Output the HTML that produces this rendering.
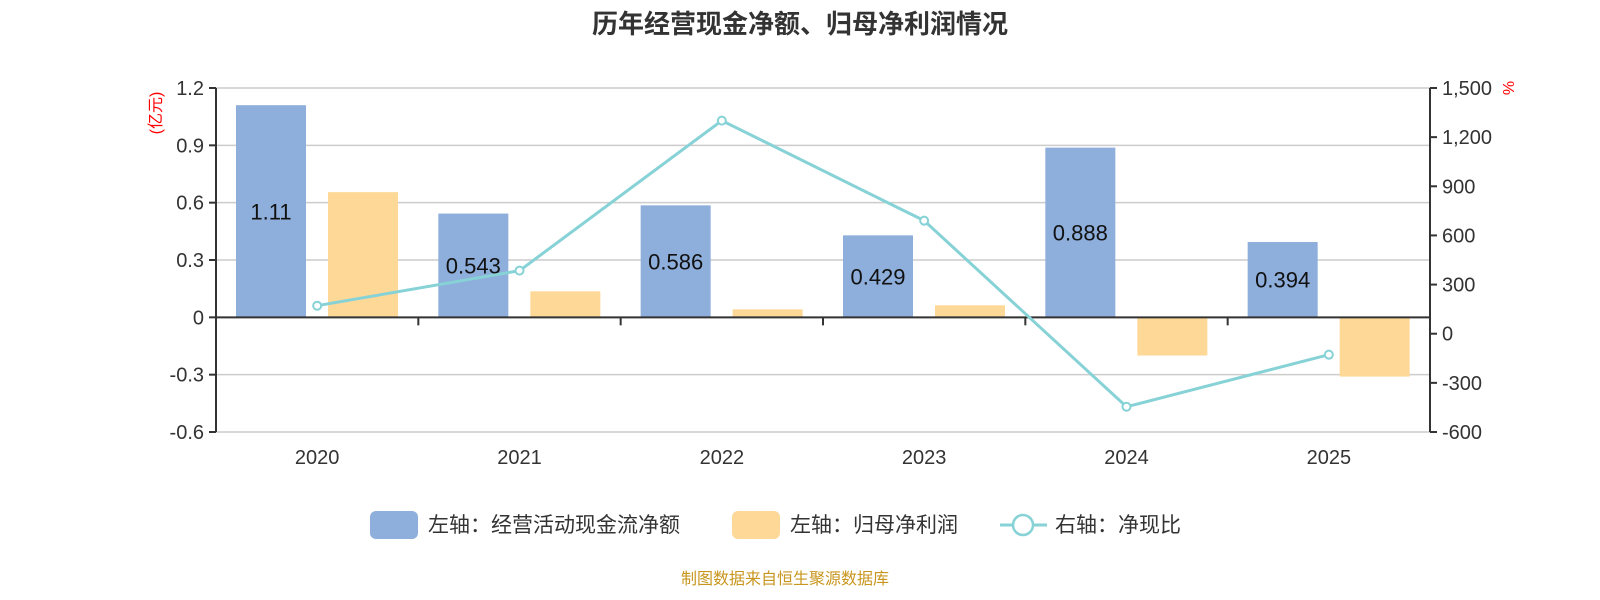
<!DOCTYPE html>
<html><head><meta charset="utf-8"><style>
body{margin:0;background:#fff;}
svg{display:block;font-family:"Liberation Sans","Noto Sans CJK SC",sans-serif;}
</style></head><body>
<svg id="c" width="1600" height="600" viewBox="0 0 1600 600"></svg>
<script>
const categories=["2020","2021","2022","2023","2024","2025"];
const cashFlow=[1.11,0.543,0.586,0.429,0.888,0.394];
const cashLabels=["1.11","0.543","0.586","0.429","0.888","0.394"];
const netProfit=[0.655,0.136,0.042,0.063,-0.2,-0.31];
const ratio=[171,385,1301,690,-446,-128];
const leftTicks=[1.2,0.9,0.6,0.3,0,-0.3,-0.6];
const leftTickLabels=["1.2","0.9","0.6","0.3","0","-0.3","-0.6"];
const rightTicks=[1500,1200,900,600,300,0,-300,-600];
const rightTickLabels=["1,500","1,200","900","600","300","0","-300","-600"];

const NS="http://www.w3.org/2000/svg";
const svg=document.getElementById('c');
function mk(t,a,txt){const e=document.createElementNS(NS,t);for(const k in a)e.setAttribute(k,a[k]);if(txt!==undefined)e.textContent=txt;svg.appendChild(e);return e;}
const X0=216,X1=1430,Y0=88,Y1=432;
const yL=v=>Y0+(1.2-v)/1.8*(Y1-Y0);
const yR=v=>Y0+(1500-v)/2100*(Y1-Y0);
const band=(X1-X0)/categories.length;
const xC=i=>X0+band*(i+0.5);

let e;
e=mk('text',{x:800,y:33,'text-anchor':'middle','font-size':26,'font-weight':'bold',fill:'#333'},'历年经营现金净额、归母净利润情况');


leftTicks.forEach((v,i)=>{
  e=mk('line',{x1:X0,x2:X1,y1:yL(v),y2:yL(v),stroke:'#ccc','stroke-width':1.5});
  
  e=mk('line',{x1:X0-7,x2:X0,y1:yL(v),y2:yL(v),stroke:'#333','stroke-width':2});
  
  e=mk('text',{x:X0-12,y:yL(v)+7,'text-anchor':'end','font-size':20,fill:'#333'},leftTickLabels[i]);
  
});
rightTicks.forEach((v,i)=>{
  e=mk('line',{x1:X1,x2:X1+7,y1:yR(v),y2:yR(v),stroke:'#333','stroke-width':2});
  
  e=mk('text',{x:X1+12,y:yR(v)+7,'text-anchor':'start','font-size':20,fill:'#333'},rightTickLabels[i]);
  
});
e=mk('line',{x1:X0,x2:X0,y1:Y0,y2:Y1,stroke:'#333','stroke-width':2});

e=mk('line',{x1:X1,x2:X1,y1:Y0,y2:Y1,stroke:'#333','stroke-width':2});

e=mk('text',{x:0,y:0,'font-size':16,fill:'red','text-anchor':'middle',transform:`translate(161,${(Y0+130)/2+4}) rotate(-90)`},'(亿元)');

e=mk('text',{x:0,y:0,'font-size':16,fill:'red','text-anchor':'middle',transform:`translate(1503,88) rotate(90)`},'%');


const bw=70;
categories.forEach((c,i)=>{
  const bs=X0+band*i;
  const y0=yL(0);
  let y=yL(cashFlow[i]);
  e=mk('rect',{x:bs+20,y:Math.min(y,y0),width:bw,height:Math.abs(y0-y),fill:'#8eaedb'});
  
  e=mk('text',{x:bs+55,y:(y+y0)/2+8,'text-anchor':'middle','font-size':22,fill:'#111'},cashLabels[i]);
  
  y=yL(netProfit[i]);
  e=mk('rect',{x:bs+112,y:Math.min(y,y0),width:bw,height:Math.abs(y0-y),fill:'#fed897'});
  
  e=mk('text',{x:xC(i),y:464,'text-anchor':'middle','font-size':20,fill:'#333'},c);
  
  if(i>0){e=mk('line',{x1:bs,x2:bs,y1:y0,y2:y0+8,stroke:'#333','stroke-width':2});
  }
});
e=mk('line',{x1:X0,x2:X1,y1:yL(0),y2:yL(0),stroke:'#333','stroke-width':2});


e=mk('polyline',{points:ratio.map((v,i)=>xC(i)+','+yR(v)).join(' '),fill:'none',stroke:'#86d2d6','stroke-width':3});

ratio.forEach((v,i)=>{
  e=mk('circle',{cx:xC(i),cy:yR(v),r:4,fill:'#fff',stroke:'#86d2d6','stroke-width':2});
  
});

// legend
e=mk('rect',{x:370,y:511,width:48,height:28,rx:6,fill:'#8eaedb'});

e=mk('text',{x:428,y:532,'font-size':21,fill:'#333'},'左轴：经营活动现金流净额');

e=mk('rect',{x:732,y:511,width:48,height:28,rx:6,fill:'#fed897'});

e=mk('text',{x:790,y:532,'font-size':21,fill:'#333'},'左轴：归母净利润');

e=mk('line',{x1:1000,x2:1047,y1:525,y2:525,stroke:'#86d2d6','stroke-width':3});

e=mk('circle',{cx:1023,cy:525,r:10,fill:'#fff',stroke:'#86d2d6','stroke-width':2.5});

e=mk('text',{x:1055,y:532,'font-size':21,fill:'#333'},'右轴：净现比');


e=mk('text',{x:785,y:584,'text-anchor':'middle','font-size':16,fill:'#c8961e'},'制图数据来自恒生聚源数据库');

</script>
</body></html>
